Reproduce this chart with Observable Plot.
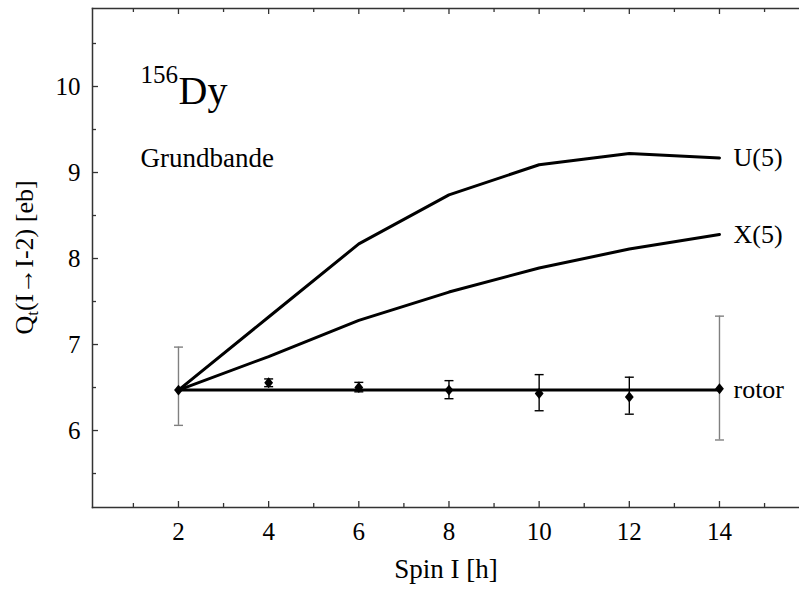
<!DOCTYPE html>
<html><head><meta charset="utf-8">
<script src="https://cdn.jsdelivr.net/npm/d3@7"></script>
<script src="https://cdn.jsdelivr.net/npm/@observablehq/plot@0.6"></script>
<style>body{margin:0;background:#fff} svg text{font-family:"Liberation Serif",serif}</style>
</head><body><div id="chart"></div>
<script>
const spins = [2, 4, 6, 8, 10, 12, 14];
const u5 = [6.47, 7.32, 8.17, 8.74, 9.09, 9.22, 9.17];
const x5 = [6.47, 6.86, 7.28, 7.61, 7.89, 8.11, 8.28];
const rotor = [6.47, 6.47, 6.47, 6.47, 6.47, 6.47, 6.47];
const expValue = [6.47, 6.555, 6.50, 6.47, 6.43, 6.39, 6.485];
const expLow = [6.06, 6.51, 6.45, 6.37, 6.23, 6.19, 5.89];
const expHigh = [6.97, 6.60, 6.56, 6.58, 6.65, 6.62, 7.33];
const expGray = [true, false, false, false, false, false, true];
const seriesNames = ["U(5)", "X(5)", "rotor"];
const xMajor = [2, 4, 6, 8, 10, 12, 14];
const xMinor = [1, 3, 5, 7, 9, 11, 13, 15];
const yMajor = [6, 7, 8, 9, 10];
const yMinor = [5.5, 6.5, 7.5, 8.5, 9.5, 10.5];

const W = 799, H = 592, mL = 92, mR = 0, mT = 8, mB = 85;
const pw = W - mL - mR, ph = H - mT - mB;
const FF = "Liberation Serif";

const series = [u5, x5, rotor];
const lines = series.flatMap((vals, k) => spins.map((s, i) => ({name: seriesNames[k], spin: s, q: vals[i]})));
const ends = series.map((vals, k) => ({name: seriesNames[k], spin: spins[spins.length - 1], q: vals[vals.length - 1]}));
const exp = spins.map((s, i) => ({spin: s, q: expValue[i], lo: expLow[i], hi: expHigh[i], col: expGray[i] ? "#808080" : "#000"}));

const capSymbol = {draw(ctx, size) { const w = Math.sqrt(size / Math.PI); ctx.moveTo(-w, 0); ctx.lineTo(w, 0); }};
const diamondSymbol = {draw(ctx, size) { const r = Math.sqrt(size / Math.PI); const w = r * 0.85, h = r * 1.05; ctx.moveTo(0, -h); ctx.lineTo(w, 0); ctx.lineTo(0, h); ctx.lineTo(-w, 0); ctx.closePath(); }};

const axisColor = "#333";
const plot = Plot.plot({
  width: W, height: H,
  marginLeft: mL, marginRight: mR, marginTop: mT, marginBottom: mB,
  style: {fontFamily: FF, fontSize: "25px", color: "#000", background: "#fff"},
  x: {domain: [0.093, 15.775]},
  y: {domain: [5.105, 10.907]},
  marks: [
    Plot.frame({anchor: "left", stroke: axisColor, strokeWidth: 1.5}),
    Plot.frame({anchor: "top", stroke: axisColor, strokeWidth: 1.5}),
    Plot.frame({anchor: "bottom", stroke: axisColor, strokeWidth: 1.5}),
    Plot.tickX(xMajor, {x: d => d, insetTop: ph - 6, stroke: axisColor, strokeWidth: 1.3}),
    Plot.tickX(xMinor, {x: d => d, insetTop: ph - 4, stroke: axisColor, strokeWidth: 1.3}),
    Plot.tickX(xMajor, {x: d => d, insetBottom: ph - 6, stroke: axisColor, strokeWidth: 1.3}),
    Plot.tickX(xMinor, {x: d => d, insetBottom: ph - 4, stroke: axisColor, strokeWidth: 1.3}),
    Plot.tickY(yMajor, {y: d => d, insetRight: pw - 6, stroke: axisColor, strokeWidth: 1.3}),
    Plot.tickY(yMinor, {y: d => d, insetRight: pw - 4, stroke: axisColor, strokeWidth: 1.3}),
    Plot.axisX({ticks: xMajor, tickSize: 0, tickPadding: 15, label: null, fontSize: 25, fontFamily: FF, tickFormat: d3.format("d")}),
    Plot.axisY({ticks: yMajor, tickSize: 0, tickPadding: 12, label: null, fontSize: 25, fontFamily: FF, tickFormat: d3.format("d")}),
    Plot.ruleX(exp, {x: "spin", y1: "lo", y2: "hi", stroke: "col", strokeWidth: 1.4}),
    Plot.dot(exp, {x: "spin", y: "lo", symbol: capSymbol, r: 4.5, stroke: "col", strokeWidth: 1.4}),
    Plot.dot(exp, {x: "spin", y: "hi", symbol: capSymbol, r: 4.5, stroke: "col", strokeWidth: 1.4}),
    Plot.line(lines, {x: "spin", y: "q", z: "name", stroke: "#000", strokeWidth: 3}),
    Plot.dot(exp, {x: "spin", y: "q", symbol: diamondSymbol, r: 5.2, fill: "#000", stroke: "none"}),
    Plot.text(ends, {x: "spin", y: "q", text: "name", dx: 14, textAnchor: "start", fontSize: 26, fontFamily: FF, fill: "#000"}),
    Plot.text(["Dy"], {text: d => d, frameAnchor: "top-left", dx: 86, dy: 95, lineAnchor: "bottom", textAnchor: "start", fontSize: 40, fontFamily: FF, fill: "#000"}),
    Plot.text(["156"], {text: d => d, frameAnchor: "top-left", dx: 48, dy: 74, lineAnchor: "bottom", textAnchor: "start", fontSize: 25, fontFamily: FF, fill: "#000"}),
    Plot.text(["Grundbande"], {text: d => d, frameAnchor: "top-left", dx: 48, dy: 158, lineAnchor: "bottom", textAnchor: "start", fontSize: 27, fontFamily: FF, fill: "#000"}),
    Plot.text(["Spin I [h]"], {text: d => d, frameAnchor: "bottom", dy: 70, lineAnchor: "bottom", fontSize: 27, fontFamily: FF, fill: "#000"})
  ]
});

const svg = d3.select(plot);
const yl = svg.append("text")
  .attr("transform", `translate(33,${mT + ph / 2}) rotate(-90)`)
  .attr("text-anchor", "middle")
  .attr("font-family", FF)
  .attr("font-size", 26)
  .attr("fill", "#000");
yl.append("tspan").text("Q");
yl.append("tspan").attr("font-size", 17).attr("dy", 5).text("t");
yl.append("tspan").attr("dy", -5).text("(I\u2192I-2) [eb]");

document.getElementById("chart").appendChild(plot);
</script>
</body></html>
